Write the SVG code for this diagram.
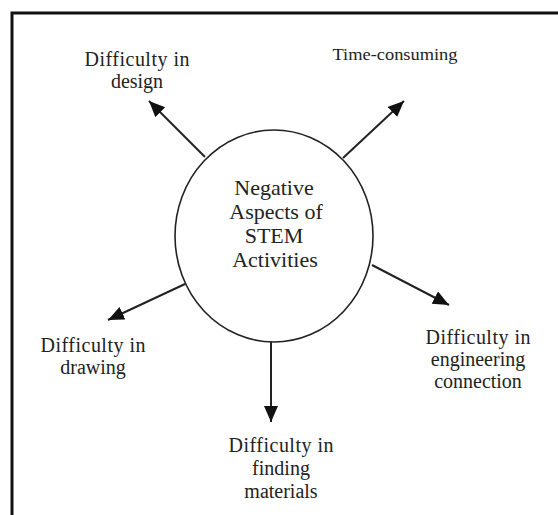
<svg xmlns="http://www.w3.org/2000/svg" width="558" height="515" viewBox="0 0 558 515">
  <style>
    .frame { fill: none; stroke: #111; stroke-width: 3; }
    .hub { fill: #fff; stroke: #222; stroke-width: 1.6; }
    .link { stroke: #222; stroke-width: 2; fill: none; marker-end: url(#head); }
    text { font-family: "Liberation Serif", "Times New Roman", serif; fill: #222; text-anchor: middle; }
    .lbl { font-size: 20px; }
    .hubtxt { font-size: 22px; }
    .small { font-size: 16px; }
  </style>
  <defs>
    <marker id="head" markerUnits="userSpaceOnUse" markerWidth="17" markerHeight="15" refX="16" refY="7" orient="auto">
      <path d="M0,0 L16,7 L0,14 z" fill="#111"/>
    </marker>
  </defs>
  <rect width="558" height="515" fill="#fff"/>
  <rect class="frame" x="12" y="13" width="560" height="520"/>

  <g id="connectors">
    <line class="link" x1="205" y1="157" x2="149" y2="101"/>
    <line class="link" x1="343" y1="158" x2="404" y2="101"/>
    <line class="link" x1="185" y1="284" x2="108" y2="320"/>
    <line class="link" x1="372" y1="265" x2="449" y2="305"/>
    <line class="link" x1="271" y1="341" x2="271" y2="422"/>
  </g>

  <g id="hub">
    <ellipse class="hub" cx="274" cy="236" rx="99" ry="106"/>
    <text class="hubtxt" x="274" y="195">Negative</text>
    <text class="hubtxt" x="276" y="219">Aspects of</text>
    <text class="hubtxt" x="274" y="243">STEM</text>
    <text class="hubtxt" x="275" y="267">Activities</text>
  </g>

  <g id="design">
    <text class="lbl" x="137" y="66" textLength="105">Difficulty in</text>
    <text class="lbl" x="137" y="88">design</text>
  </g>

  <g id="time">
    <text class="small" x="395" y="60" textLength="125" lengthAdjust="spacingAndGlyphs">Time-consuming</text>
  </g>

  <g id="drawing">
    <text class="lbl" x="93" y="352" textLength="105">Difficulty in</text>
    <text class="lbl" x="93" y="374">drawing</text>
  </g>

  <g id="engineering">
    <text class="lbl" x="478" y="344" textLength="105">Difficulty in</text>
    <text class="lbl" x="478" y="366">engineering</text>
    <text class="lbl" x="478" y="388">connection</text>
  </g>

  <g id="materials">
    <text class="lbl" x="281" y="452" textLength="105">Difficulty in</text>
    <text class="lbl" x="281" y="475">finding</text>
    <text class="lbl" x="281" y="498">materials</text>
  </g>
</svg>
